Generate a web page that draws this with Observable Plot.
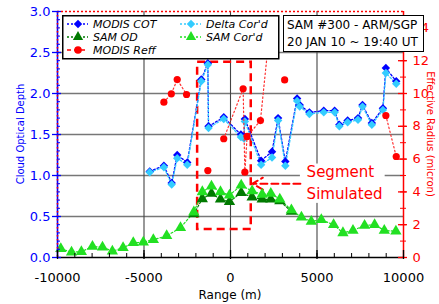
<!DOCTYPE html>
<html><head><meta charset="utf-8">
<script src="https://cdn.jsdelivr.net/npm/d3@7"></script>
<script src="https://cdn.jsdelivr.net/npm/@observablehq/plot@0.6"></script>
<style>
body{margin:0;background:#fff;}
#wrap{position:relative;width:439px;height:304px;font-family:"DejaVu Sans",sans-serif;overflow:hidden;}
.ov{position:absolute;white-space:nowrap;}
</style></head><body><div id="wrap"></div>
<script>
// ---- data ----
const cotX   = [-4670,-3850,-3400,-3080,-2500,-1690,-1310,-1270,-390,600,780,830,1770,2400,2750,3170,3850,4000,4560,5390,6020,6290,6770,7370,7630,8170,8810,8980,9580];
const cotY   = [1.05,1.12,0.91,1.25,1.16,2.17,2.37,1.60,1.71,1.50,1.48,1.69,1.18,1.29,1.70,1.17,1.94,1.86,1.77,1.79,1.79,1.62,1.67,1.70,1.86,1.64,1.82,2.31,2.15];
const deltaY = [1.04,1.10,0.89,1.21,1.13,2.15,2.35,1.58,1.69,1.47,1.45,1.66,1.13,1.22,1.67,1.12,1.91,1.84,1.75,1.77,1.77,1.60,1.65,1.68,1.84,1.62,1.80,2.25,2.12];
const reffX   = [-3850,-3420,-3080,-2540,-1310,-390,730,830,960,1730,2200,3130,8980,9580];
const reffR   = [9.47,9.98,10.85,9.94,5.30,7.24,10.29,5.20,7.38,8.35,13.2,10.83,8.66,6.16];
const reffSeg = [0,0,0,0,1,2,2,2,2,2,2,3,4,4];
const samOdX = [-2120,-1630,-1100,-580,-60,620,1250,1830,2330,2850,3520];
const samOdY = [0.53,0.715,0.78,0.71,0.68,0.79,0.735,0.71,0.71,0.69,0.56];
const samCorX = [-9810,-9190,-8620,-7980,-7400,-6830,-6210,-5620,-5040,-4460,-3690,-2890,-2120,-1630,-1100,-580,-60,620,1250,1830,2330,2850,3520,4100,4670,5250,5960,6500,7080,7750,8330,8890,9560];
const samCorY = [0.106,0.065,0.07,0.134,0.126,0.077,0.118,0.179,0.187,0.216,0.264,0.362,0.553,0.80,0.87,0.80,0.76,0.88,0.81,0.77,0.78,0.71,0.58,0.49,0.44,0.46,0.40,0.30,0.33,0.39,0.40,0.33,0.32];

const xTicks = [-10000,-5000,0,5000,10000];
const xMinor = d3.range(-10000,10001,1000);
const yTicks = [0,0.5,1,1.5,2,2.5,3];
const yMinor = d3.range(0,30.5,1).map(v=>v/10);
const gridY = [0.5,1,1.5,2,2.5];
const gridX = [-5000,0,5000];
const reffTicks = [0,2,4,6,8,10,12,14];
const reffMinor = d3.range(0,15,1);
const reffPerCod = 5; // right axis = 5 x left axis

// annotation: simulated segment box and arrow
const segX = [-1900,1200], segY = [0.34,2.38];
const arrowX = [4040,1270], arrowY = [0.9,0.9];
const noteX = 4400, noteLines = ["Segment","Simulated"], noteY = [1.04,0.77];

const series = [
  {name:"MODIS COT",  color:"#0000ff", symbol:"diamond2", dash:"2,2"},
  {name:"SAM OD",     color:"#007a00", symbol:"triangle", dash:"2,2"},
  {name:"MODIS Reff", color:"#ff0000", symbol:"circle",   dash:"4,3"},
  {name:"Delta Cor'd",color:"#33ccff", symbol:"diamond2", dash:"2,2"},
  {name:"SAM Cor'd",  color:"#22e022", symbol:"triangle", dash:"2,2"}
];

// ---- layout ----
const W=439,H=304,mL=57,mR=36,mT=11,mB=47;
const plotW=W-mL-mR, plotH=H-mT-mB;

const cot = cotX.map((x,i)=>({x,y:cotY[i]}));
const delta = cotX.map((x,i)=>({x,y:deltaY[i]}));
const reff = reffX.map((x,i)=>({x,r:reffR[i],seg:reffSeg[i]}));
const samOd = samOdX.map((x,i)=>({x,y:samOdY[i]}));
const samCor = samCorX.map((x,i)=>({x,y:samCorY[i]}));

const C = Object.fromEntries(series.map(s=>[s.name,s]));

const chart = Plot.plot({
  width:W, height:H, marginLeft:mL, marginRight:mR, marginTop:mT, marginBottom:mB,
  style:{fontFamily:"DejaVu Sans, sans-serif", background:"white"},
  x:{domain:[-10000,10000], label:null, axis:null},
  y:{domain:[0,3], label:null, axis:null},
  marks:[
    Plot.ruleY(gridY,{stroke:"#777", strokeWidth:1.6}),
    Plot.ruleX(gridX,{stroke:"#444", strokeWidth:1.1}),
    // white label background
    Plot.rect([0],{x1:()=>arrowX[0], x2:()=>8940, y1:()=>0.66, y2:()=>1.14, fill:"white"}),
    // segment box
    Plot.rect([0],{x1:()=>segX[0], x2:()=>segX[1], y1:()=>segY[0], y2:()=>segY[1], fill:"none", stroke:"#ff0000", strokeWidth:2.5, strokeDasharray:"8,5"}),
    Plot.arrow([0],{x1:()=>arrowX[0], y1:()=>arrowY[0], x2:()=>arrowX[1], y2:()=>arrowY[1], stroke:"#ff0000", strokeWidth:2, strokeDasharray:"7,4", headLength:9}),
    Plot.text(noteLines,{x:()=>noteX, y:(d,i)=>noteY[i], text:d=>d, fill:"#ff0000", fontSize:15, textAnchor:"start"}),
    // green series
    Plot.line(samCor,{x:"x",y:"y",stroke:C["SAM Cor'd"].color, strokeDasharray:"2,2", strokeWidth:1.2}),
    Plot.line(samOd,{x:"x",y:"y",stroke:C["SAM OD"].color, strokeDasharray:"2,2", strokeWidth:1.2}),
    Plot.dot(samOd,{x:"x",y:"y",symbol:"triangle", r:4.2, fill:C["SAM OD"].color, stroke:"none"}),
    Plot.dot(samCor,{x:"x",y:"y",symbol:"triangle", r:4.2, fill:C["SAM Cor'd"].color, stroke:"none"}),
    // blue / cyan series
    Plot.line(cot,{x:"x",y:"y",stroke:C["MODIS COT"].color, strokeDasharray:"2,2", strokeWidth:1.3}),
    Plot.line(delta,{x:"x",y:"y",stroke:C["Delta Cor'd"].color, strokeDasharray:"2,2", strokeWidth:1.3}),
    Plot.dot(cot,{x:"x",y:"y",symbol:"diamond2", r:3.8, fill:C["MODIS COT"].color, stroke:"none"}),
    Plot.dot(delta,{x:"x",y:"y",symbol:"diamond2", r:3.8, fill:C["Delta Cor'd"].color, stroke:"none"}),
    // red Reff series (right axis)
    Plot.line(reff,{x:"x",y:d=>d.r/reffPerCod, z:"seg", stroke:"#ff3030", strokeDasharray:"1.5,2.5", strokeWidth:1.2}),
    Plot.dot(reff,{x:"x",y:d=>d.r/reffPerCod, r:3.6, fill:C["MODIS Reff"].color, stroke:"none"}),
    // spines
    Plot.ruleX([-10000],{stroke:"#0000ff", strokeWidth:1.6}),
    Plot.ruleX([-10000],{stroke:"#ff0000", strokeWidth:1.6, strokeDasharray:"1.5,2.5"}),
    Plot.ruleY([3],{stroke:"#ff0000", strokeWidth:1.6, strokeDasharray:"2,2"}),
    Plot.ruleX([10000],{stroke:"#ff0000", strokeWidth:1.5}),
    Plot.ruleY([0],{stroke:"black", strokeWidth:1.5}),
    // left axis
    Plot.tickY(yMinor,{y:d=>d, stroke:"#0000ff", insetRight:plotW-3}),
    Plot.tickY(yTicks,{y:d=>d, stroke:"#0000ff", strokeWidth:1.3, insetLeft:-5, insetRight:plotW-4}),
    Plot.axisY(yTicks,{anchor:"left", tickSize:0, tickPadding:7, tickFormat:d=>d.toFixed(1), fill:"#0000ff", fontSize:13, label:null}),
    // right axis
    Plot.tickY(reffMinor.map(v=>v/reffPerCod),{y:d=>d, stroke:"#ff0000", insetLeft:plotW-3, insetRight:-3}),
    Plot.tickY(reffTicks.map(v=>v/reffPerCod),{y:d=>d, stroke:"#ff0000", strokeWidth:1.3, insetLeft:plotW-5, insetRight:-4}),
    Plot.axisY(reffTicks.map(v=>v/reffPerCod),{anchor:"right", tickSize:0, tickPadding:9, tickFormat:d=>String(Math.round(d*reffPerCod)), fill:"#ff0000", fontSize:13, label:null}),
    // x axis
    Plot.tickX(xMinor,{x:d=>d, stroke:"black", insetTop:plotH-4}),
    Plot.tickX(xTicks,{x:d=>d, stroke:"black", strokeWidth:1.3, insetTop:plotH-7, insetBottom:-2}),
    Plot.axisX(xTicks,{anchor:"bottom", tickSize:0, tickPadding:15, tickFormat:d=>String(d), fill:"black", fontSize:13, label:null})
  ]
});

const wrap = document.getElementById("wrap");
wrap.appendChild(chart);

function addDiv(html, css){
  const d=document.createElement("div"); d.className="ov"; d.innerHTML=html; Object.assign(d.style,css); wrap.appendChild(d); return d;
}
// axis titles
addDiv("Cloud Optical Depth",{left:"20px",top:"134px",color:"#0000ff",fontSize:"10px",transform:"translate(-50%,-50%) rotate(-90deg)"});
addDiv("Effective Radius (micron)",{left:"430px",top:"134px",color:"#ff0000",fontSize:"10px",transform:"translate(-50%,-50%) rotate(90deg)"});
addDiv("Range (m)",{left:"230px",top:"295px",color:"black",fontSize:"12px",transform:"translate(-50%,-50%)"});

// legend
const lg = d3.select(wrap).append("svg").attr("class","ov")
  .style("left","62px").style("top","15px").attr("width",218).attr("height",45);
lg.append("rect").attr("x",0.75).attr("y",0.75).attr("width",216).attr("height",43).attr("fill","white").attr("stroke","black").attr("stroke-width",1.5);
const symMap = {diamond2:d3.symbolDiamond2, triangle:d3.symbolTriangle, circle:d3.symbolCircle};
const pos = [[0,9],[0,22],[0,35],[113,9],[113,22]];
series.forEach((s,i)=>{
  const [ox,oy]=pos[i];
  const g = lg.append("g").attr("transform",`translate(${ox},${oy})`);
  g.append("line").attr("x1",5).attr("x2",26).attr("y1",0).attr("y2",0).attr("stroke",s.color).attr("stroke-width",1.3).attr("stroke-dasharray",s.dash);
  g.append("path").attr("transform","translate(16,0)").attr("d",d3.symbol(symMap[s.symbol], Math.PI*3.8*3.8)()).attr("fill",s.color);
  g.append("text").attr("x",31).attr("y",0).attr("dy","0.36em").attr("font-size",11).attr("font-style","italic").attr("font-family","DejaVu Sans, sans-serif").text(s.name);
});

// info box
addDiv("SAM #300 - ARM/SGP<br>20 JAN 10 ~ 19:40 UT",{left:"283px",top:"15px",width:"136px",height:"34px",border:"1.5px solid black",background:"white",fontSize:"12px",lineHeight:"17px",padding:"1px 0 0 3px",boxSizing:"content-box"});
</script></body></html>
